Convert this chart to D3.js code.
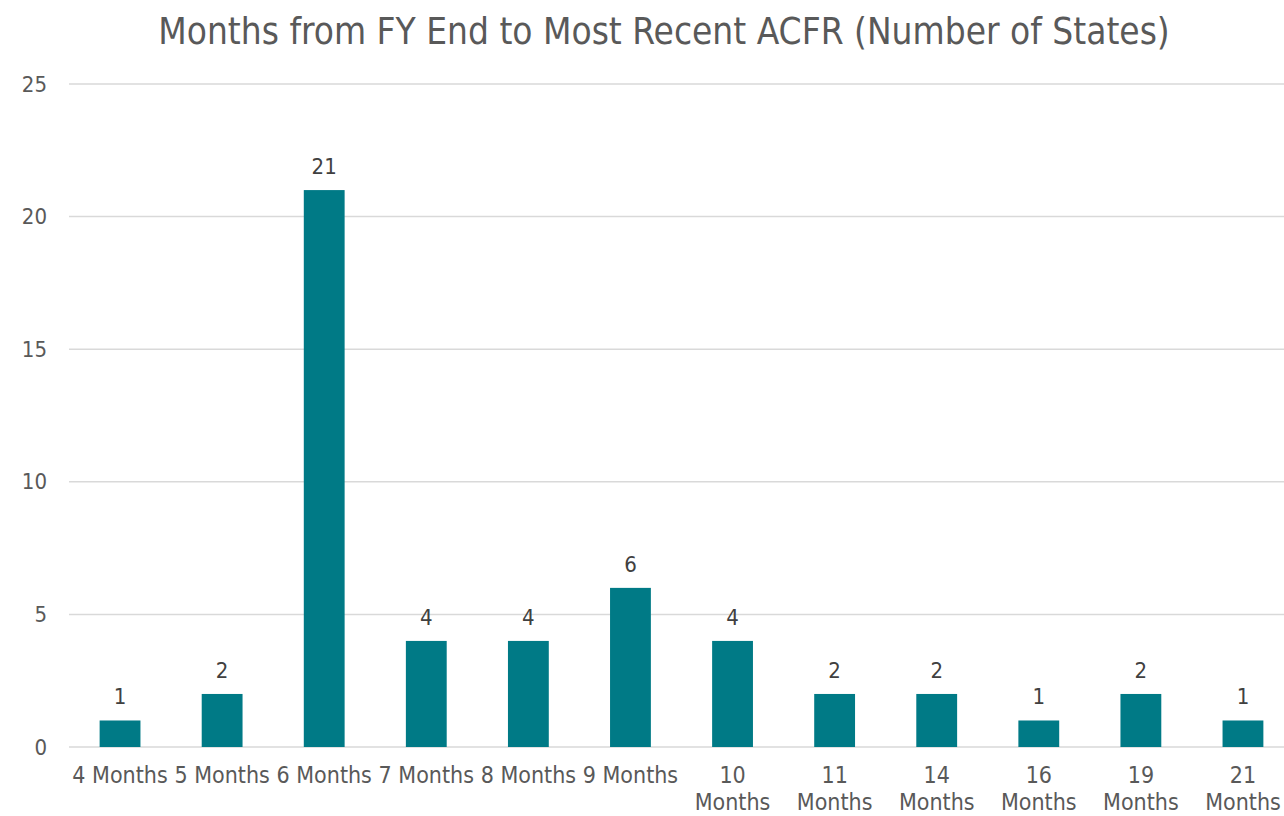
<!DOCTYPE html>
<html>
<head>
<meta charset="utf-8">
<script src="https://cdn.jsdelivr.net/npm/d3@7"></script>
<style>
  body { margin: 0; background: #fff; }
  svg { display: block; font-family: "DejaVu Sans Condensed", "DejaVu Sans", sans-serif; }
</style>
</head>
<body>
<div id="chart"></div>
<script>
const title = "Months from FY End to Most Recent ACFR (Number of States)";
const categories = ["4 Months", "5 Months", "6 Months", "7 Months", "8 Months", "9 Months",
                    "10 Months", "11 Months", "14 Months", "16 Months", "19 Months", "21 Months"];
const states = [1, 2, 21, 4, 4, 6, 4, 2, 2, 1, 2, 1];
const yTicks = [0, 5, 10, 15, 20, 25];

const width = 1284, height = 816;
const margin = {top: 84, right: -10, bottom: 69, left: 69};

const svg = d3.select("#chart").append("svg")
  .attr("width", width)
  .attr("height", height);

const x = d3.scaleBand()
  .domain(categories)
  .range([margin.left, width - margin.right])
  .paddingInner(0.6)
  .paddingOuter(0.3);

const y = d3.scaleLinear()
  .domain([0, 25])
  .range([height - margin.bottom, margin.top]);

// gridlines
svg.append("g").selectAll("line")
  .data(yTicks)
  .enter().append("line")
  .attr("x1", margin.left)
  .attr("x2", width - margin.right)
  .attr("y1", d => y(d))
  .attr("y2", d => y(d))
  .attr("stroke", "#d9d9d9")
  .attr("stroke-width", 1.5);

// y axis labels
const yAxis = svg.append("g")
  .attr("transform", `translate(${margin.left - 22},0)`)
  .call(d3.axisLeft(y).tickValues(yTicks).tickSize(0).tickPadding(0));
yAxis.select(".domain").remove();
yAxis.selectAll("text")
  .attr("font-size", 22)
  .attr("fill", "#595959")
  .attr("font-family", "DejaVu Sans Condensed, DejaVu Sans, sans-serif");

// bars
svg.append("g").selectAll("rect")
  .data(states)
  .enter().append("rect")
  .attr("x", (d, i) => x(categories[i]))
  .attr("width", x.bandwidth())
  .attr("y", d => y(d))
  .attr("height", d => y(0) - y(d))
  .attr("fill", "#007a86");

// data labels
svg.append("g").selectAll("text")
  .data(states)
  .enter().append("text")
  .attr("x", (d, i) => x(categories[i]) + x.bandwidth() / 2)
  .attr("y", d => y(d) - 16)
  .attr("text-anchor", "middle")
  .attr("font-size", 22)
  .attr("fill", "#404040")
  .text(d => d);

// x axis labels, wrapped when wider than a band step
const xAxis = svg.append("g")
  .attr("transform", `translate(0,${height - margin.bottom})`)
  .call(d3.axisBottom(x).tickSize(0).tickPadding(0));
xAxis.select(".domain").remove();
xAxis.selectAll("text")
  .attr("font-size", 23)
  .attr("fill", "#595959")
  .attr("font-family", "DejaVu Sans Condensed, DejaVu Sans, sans-serif")
  .attr("y", 0)
  .attr("dy", null)
  .each(function(d) {
    const t = d3.select(this);
    t.text(null);
    const probe = t.append("tspan").text(d);
    const w = probe.node().getComputedTextLength();
    probe.remove();
    const lines = w > x.step() ? d.split(" ") : [d];
    lines.forEach((ln, i) => {
      t.append("tspan").attr("x", 0).attr("y", 36 + i * 27).text(ln);
    });
  });

// title
svg.append("text")
  .attr("x", 664)
  .attr("y", 44)
  .attr("text-anchor", "middle")
  .attr("font-size", 36.7)
  .attr("fill", "#595959")
  .text(title);
</script>
</body>
</html>
